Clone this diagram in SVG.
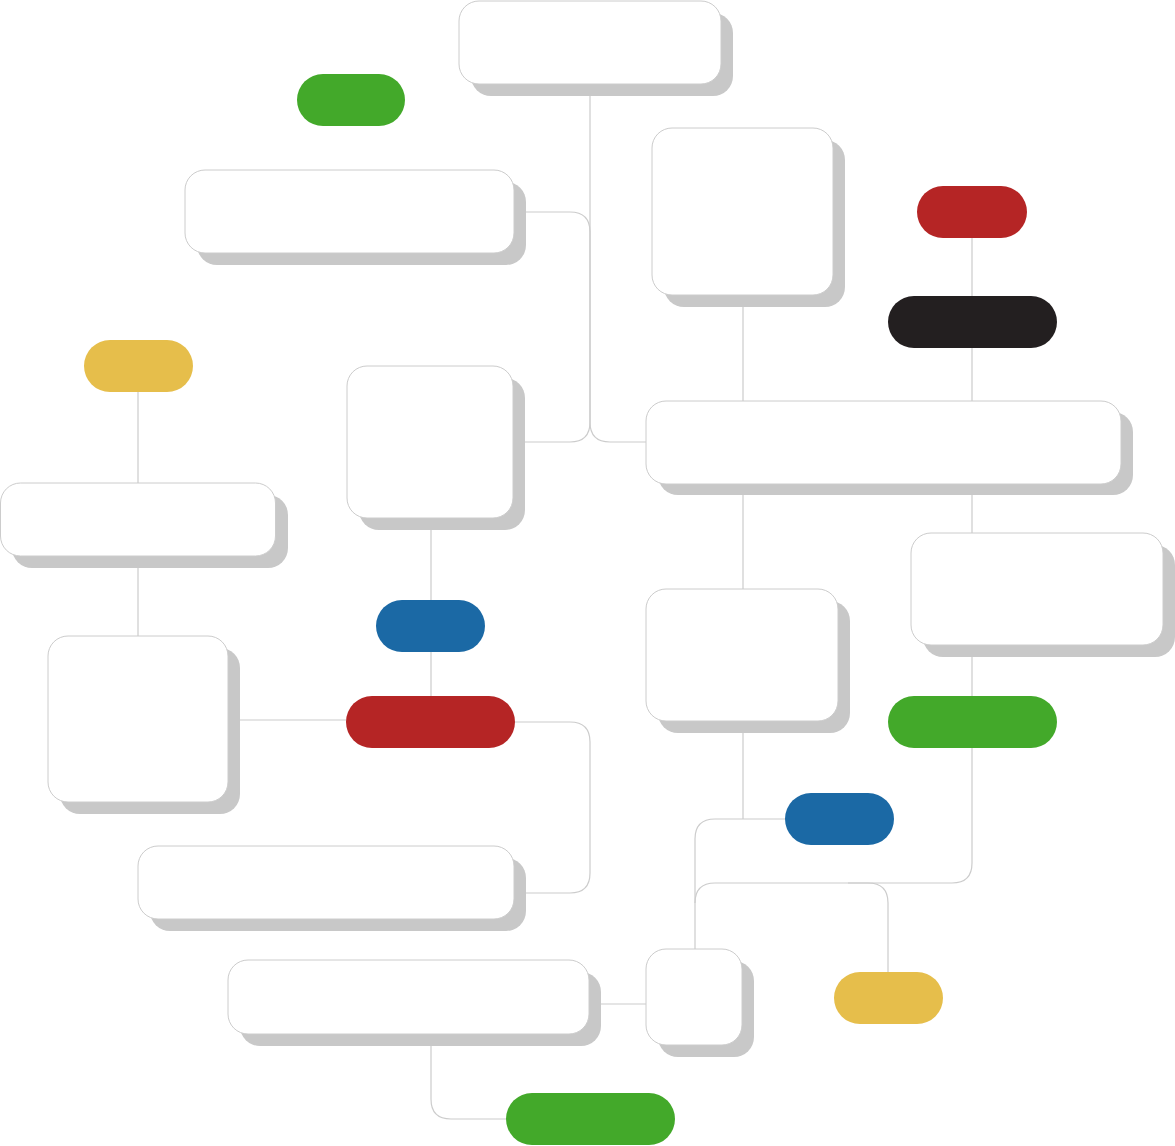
<svg xmlns="http://www.w3.org/2000/svg" width="1175" height="1146" viewBox="0 0 1175 1146">
<style>
.sh{fill:#c8c8c8}
.bx{fill:#ffffff;stroke:#cccccc;stroke-width:1}
.ln{fill:none;stroke:#cccccc;stroke-width:1.2}
.g{fill:#43a92a}.r{fill:#b52525}.k{fill:#231f20}.y{fill:#e6be4b}.b{fill:#1b69a5}
</style>
<rect width="1175" height="1146" fill="#ffffff"/>
<g id="connectors">
<path class="ln" d="M526,212 H570 Q590,212 590,232 V422 Q590,442 570,442 H525"/>
<path class="ln" d="M590,96 V422 Q590,442 610,442 H646"/>
<path class="ln" d="M743,307 V401"/>
<path class="ln" d="M972,238 V296 M972,348 V401"/>
<path class="ln" d="M743,495 V589"/>
<path class="ln" d="M972,495 V533 M972,657 V696"/>
<path class="ln" d="M138,392 V483 M138,568 V636"/>
<path class="ln" d="M431,530 V600 M431,652 V696"/>
<path class="ln" d="M240,720 H346"/>
<path class="ln" d="M515,722 H570 Q590,722 590,742 V873 Q590,893 570,893 H526"/>
<path class="ln" d="M743,733 V819"/>
<path class="ln" d="M785,819 H715 Q695,819 695,839 V949"/>
<path class="ln" d="M972,748 V863 Q972,883 952,883 H715 Q695,883 695,903"/>
<path class="ln" d="M848,883 H868 Q888,883 888,903 V972"/>
<path class="ln" d="M601,1004 H646"/>
<path class="ln" d="M431,1046 V1099 Q431,1119 451,1119 H506"/>
</g>
<g id="box1"><rect class="sh" x="471" y="13" width="262" height="83" rx="20"/><rect class="bx" x="459" y="1" width="262" height="83" rx="20"/></g>
<g id="box2"><rect class="sh" x="197" y="182" width="329" height="83" rx="20"/><rect class="bx" x="185" y="170" width="329" height="83" rx="20"/></g>
<g id="box3"><rect class="sh" x="664" y="140" width="181" height="167" rx="20"/><rect class="bx" x="652" y="128" width="181" height="167" rx="20"/></g>
<g id="box4"><rect class="sh" x="359" y="378" width="166" height="152" rx="20"/><rect class="bx" x="347" y="366" width="166" height="152" rx="20"/></g>
<g id="box5"><rect class="sh" x="658" y="412" width="475" height="83" rx="20"/><rect class="bx" x="646" y="401" width="475" height="83" rx="20"/></g>
<g id="box6"><rect class="sh" x="12" y="495" width="276" height="73" rx="20"/><rect class="bx" x="0.5" y="483" width="275" height="73" rx="20"/></g>
<g id="box7"><rect class="sh" x="923" y="545" width="252" height="112" rx="20"/><rect class="bx" x="911" y="533" width="252" height="112" rx="20"/></g>
<g id="box8"><rect class="sh" x="658" y="601" width="192" height="132" rx="20"/><rect class="bx" x="646" y="589" width="192" height="132" rx="20"/></g>
<g id="box9"><rect class="sh" x="60" y="648" width="180" height="166" rx="20"/><rect class="bx" x="48" y="636" width="180" height="166" rx="20"/></g>
<g id="box10"><rect class="sh" x="150" y="858" width="376" height="73" rx="20"/><rect class="bx" x="138" y="846" width="376" height="73" rx="20"/></g>
<g id="box11"><rect class="sh" x="240" y="972" width="361" height="74" rx="20"/><rect class="bx" x="228" y="960" width="361" height="74" rx="20"/></g>
<g id="box12"><rect class="sh" x="658" y="961" width="96" height="96" rx="20"/><rect class="bx" x="646" y="949" width="96" height="96" rx="20"/></g>
<g id="pill1"><rect class="g" x="297" y="74" width="108" height="52" rx="26"/></g>
<g id="pill2"><rect class="r" x="917" y="186" width="110" height="52" rx="26"/></g>
<g id="pill3"><rect class="k" x="888" y="296" width="169" height="52" rx="26"/></g>
<g id="pill4"><rect class="y" x="84" y="340" width="109" height="52" rx="26"/></g>
<g id="pill5"><rect class="b" x="376" y="600" width="109" height="52" rx="26"/></g>
<g id="pill6"><rect class="r" x="346" y="696" width="169" height="52" rx="26"/></g>
<g id="pill7"><rect class="g" x="888" y="696" width="169" height="52" rx="26"/></g>
<g id="pill8"><rect class="b" x="785" y="793" width="109" height="52" rx="26"/></g>
<g id="pill9"><rect class="y" x="834" y="972" width="109" height="52" rx="26"/></g>
<g id="pill10"><rect class="g" x="506" y="1093" width="169" height="52" rx="26"/></g>
</svg>
